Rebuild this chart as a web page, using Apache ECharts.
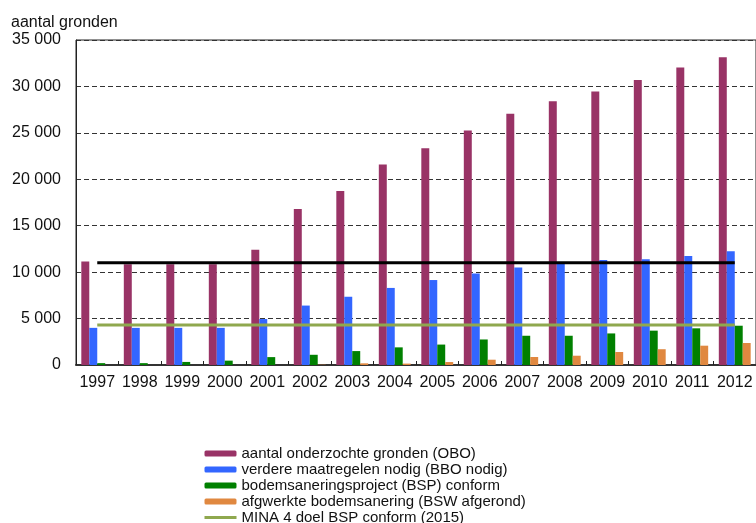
<!DOCTYPE html>
<html>
<head>
<meta charset="utf-8">
<script src="https://cdn.jsdelivr.net/npm/echarts@6/dist/echarts.min.js"></script>
<style>
    html, body { margin: 0; padding: 0; background: #fff; }
    #chart { width: 756px; height: 523px; }
</style>
</head>
<body>
<div id="chart"></div>
<script>
// jaren
let years = ['1997','1998','1999','2000','2001','2002','2003','2004','2005','2006','2007','2008','2009','2010','2011','2012'];

// aantal onderzochte gronden (OBO)
let obo = [11150, 10850, 10850, 10850, 12400, 16800, 18750, 21600, 23350, 25250, 27050, 28400, 29450, 30700, 32050, 33150];
// verdere maatregelen nodig (BBO nodig)
let bbo = [4000, 4000, 4000, 4000, 4950, 6400, 7350, 8300, 9150, 9850, 10500, 10900, 11300, 11400, 11750, 12250];
// bodemsaneringsproject (BSP) conform
let bsp = [200, 200, 330, 470, 850, 1100, 1500, 1900, 2200, 2750, 3150, 3150, 3400, 3700, 3950, 4230];
// afgwerkte bodemsanering (BSW afgerond)
let bsw = [0, 0, 0, 0, 0, 30, 180, 150, 320, 570, 860, 1000, 1400, 1700, 2080, 2370];
// MINA 4 doel BSP conform (2015)
let mina = [4300, 4300, 4300, 4300, 4300, 4300, 4300, 4300, 4300, 4300, 4300, 4300, 4300, 4300, 4300, 4300];
// zwarte lijn
let blackLine = [11000, 11000, 11000, 11000, 11000, 11000, 11000, 11000, 11000, 11000, 11000, 11000, 11000, 11000, 11000, 11000];

let names = [
    'aantal onderzochte gronden (OBO)',
    'verdere maatregelen nodig (BBO nodig)',
    'bodemsaneringsproject (BSP) conform',
    'afgwerkte bodemsanering (BSW afgerond)',
    'MINA 4 doel BSP conform (2015)'
];

let font = 'Arial, "Liberation Sans", sans-serif';

let myChart = echarts.init(document.getElementById('chart'));
myChart.setOption({
    animation: false,
    title: {
        text: 'aantal gronden',
        left: 11,
        top: 15,
        padding: 0,
        textStyle: { fontFamily: font, fontSize: 16, fontWeight: 'normal', color: '#111' }
    },
    legend: {
        orient: 'vertical',
        left: 203,
        top: 446,
        height: 100,
        itemWidth: 32,
        itemHeight: 6,
        itemGap: 1,
        padding: 0,
        selectedMode: false,
        data: [
            names[0], names[1], names[2], names[3],
            {
                name: names[4],
                itemStyle: { color: 'rgba(0,0,0,0)', borderWidth: 0 },
                lineStyle: { color: '#8fa84e', width: 3 }
            }
        ],
        textStyle: { fontFamily: font, fontSize: 15, color: '#111', lineHeight: 15 }
    },
    grid: {
        left: 76,
        top: 40,
        width: 686,
        bottom: 158,
        show: true,
        borderColor: '#222',
        borderWidth: 1
    },
    xAxis: {
        type: 'category',
        data: years,
        axisLine: { lineStyle: { color: '#333', width: 2 } },
        axisTick: { show: true, inside: true, length: 4, lineStyle: { color: '#222' } },
        axisLabel: { fontFamily: font, fontSize: 16, color: '#111', margin: 10, interval: 0 }
    },
    yAxis: {
        type: 'value',
        min: 0,
        max: 35000,
        interval: 5000,
        axisLine: { show: true, lineStyle: { color: '#222', width: 1 } },
        axisTick: { show: false },
        axisLabel: {
            fontFamily: font,
            fontSize: 16,
            color: '#111',
            margin: 15,
            formatter: function (v) {
                return String(v).replace(/\B(?=(\d{3})+(?!\d))/g, ' ');
            }
        },
        splitLine: { lineStyle: { color: '#333', type: [5, 3], width: 1 } }
    },
    series: [
        { name: names[0], type: 'bar', data: obo, barGap: 0, barCategoryGap: '25%', itemStyle: { color: '#993366' } },
        { name: names[1], type: 'bar', data: bbo, itemStyle: { color: '#3366ff' } },
        { name: names[2], type: 'bar', data: bsp, itemStyle: { color: '#008000' } },
        { name: names[3], type: 'bar', data: bsw, itemStyle: { color: '#e08840' } },
        {
            name: names[4], type: 'line', data: mina, symbol: 'none', z: 4,
            itemStyle: { color: '#8fa84e' },
            lineStyle: { color: '#8fa84e', width: 3 }
        },
        {
            name: 'zwart', type: 'line', data: blackLine, symbol: 'none', z: 5,
            itemStyle: { color: '#000' },
            lineStyle: { color: '#000', width: 3 }
        }
    ]
});
</script>
</body>
</html>
